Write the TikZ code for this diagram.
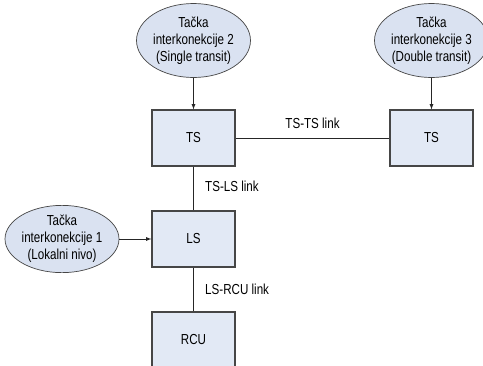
\documentclass[tikz,border=0pt]{standalone}
\usepackage{fontspec}
\setmainfont{Liberation Sans}[FakeStretch=0.8]
\usetikzlibrary{shapes.geometric}
\definecolor{boxfill}{RGB}{226,233,245}
\definecolor{ovalfill}{RGB}{218,226,241}
\definecolor{edgegray}{RGB}{70,70,70}

\begin{document}
\begin{tikzpicture}[x=1pt,y=-1pt,font=\fontsize{14.5}{17}\selectfont]
        % Styles
        \tikzstyle{switch}=[draw=edgegray,line width=1.2pt,fill=boxfill,minimum width=83pt,minimum height=56pt,inner sep=0pt]
        \tikzstyle{ipoint}=[ellipse,draw=edgegray,line width=0.7pt,fill=ovalfill,inner sep=0pt,align=center]
        \tikzstyle{link}=[line width=0.8pt,draw=black!85]
        \tikzstyle{feed}=[link,-latex]
        \useasboundingbox (0,0) rectangle (483,365);
        %switches
        \node[switch] (ts)  at (193.5,138) {TS};
        \node[switch] (ts2) at (431.5,138) {TS};
        \node[switch] (ls)  at (193.5,239) {LS};
        \node[switch] (rcu) at (193.5,340) {RCU};
        %interconnection points
        \node[ipoint,minimum width=108pt,minimum height=74pt] (ip2) at (193.5,40.5) {Tačka\\interkonekcije 2\\(Single transit)};
        \node[ipoint,minimum width=107pt,minimum height=74pt] (ip3) at (431.5,40.5) {Tačka\\interkonekcije 3\\(Double transit)};
        \node[ipoint,minimum width=104pt,minimum height=55pt] (ip1) at (62,239) {Tačka\\interkonekcije 1\\(Lokalni nivo)};
        %links
        \draw[link] (ts) -- (ts2) node[midway,above=5.4pt] {TS-TS link};
        \draw[link] (ts) -- (ls) node[midway,right=8pt,yshift=2.5pt] {TS-LS link};
        \draw[link] (ls) -- (rcu) node[midway,right=8pt] {LS-RCU link};
        \draw[feed] (ip2) -- (ts);
        \draw[feed] (ip3) -- (ts2);
        \draw[feed] (ip1) -- (ls);
\end{tikzpicture}
\end{document}
